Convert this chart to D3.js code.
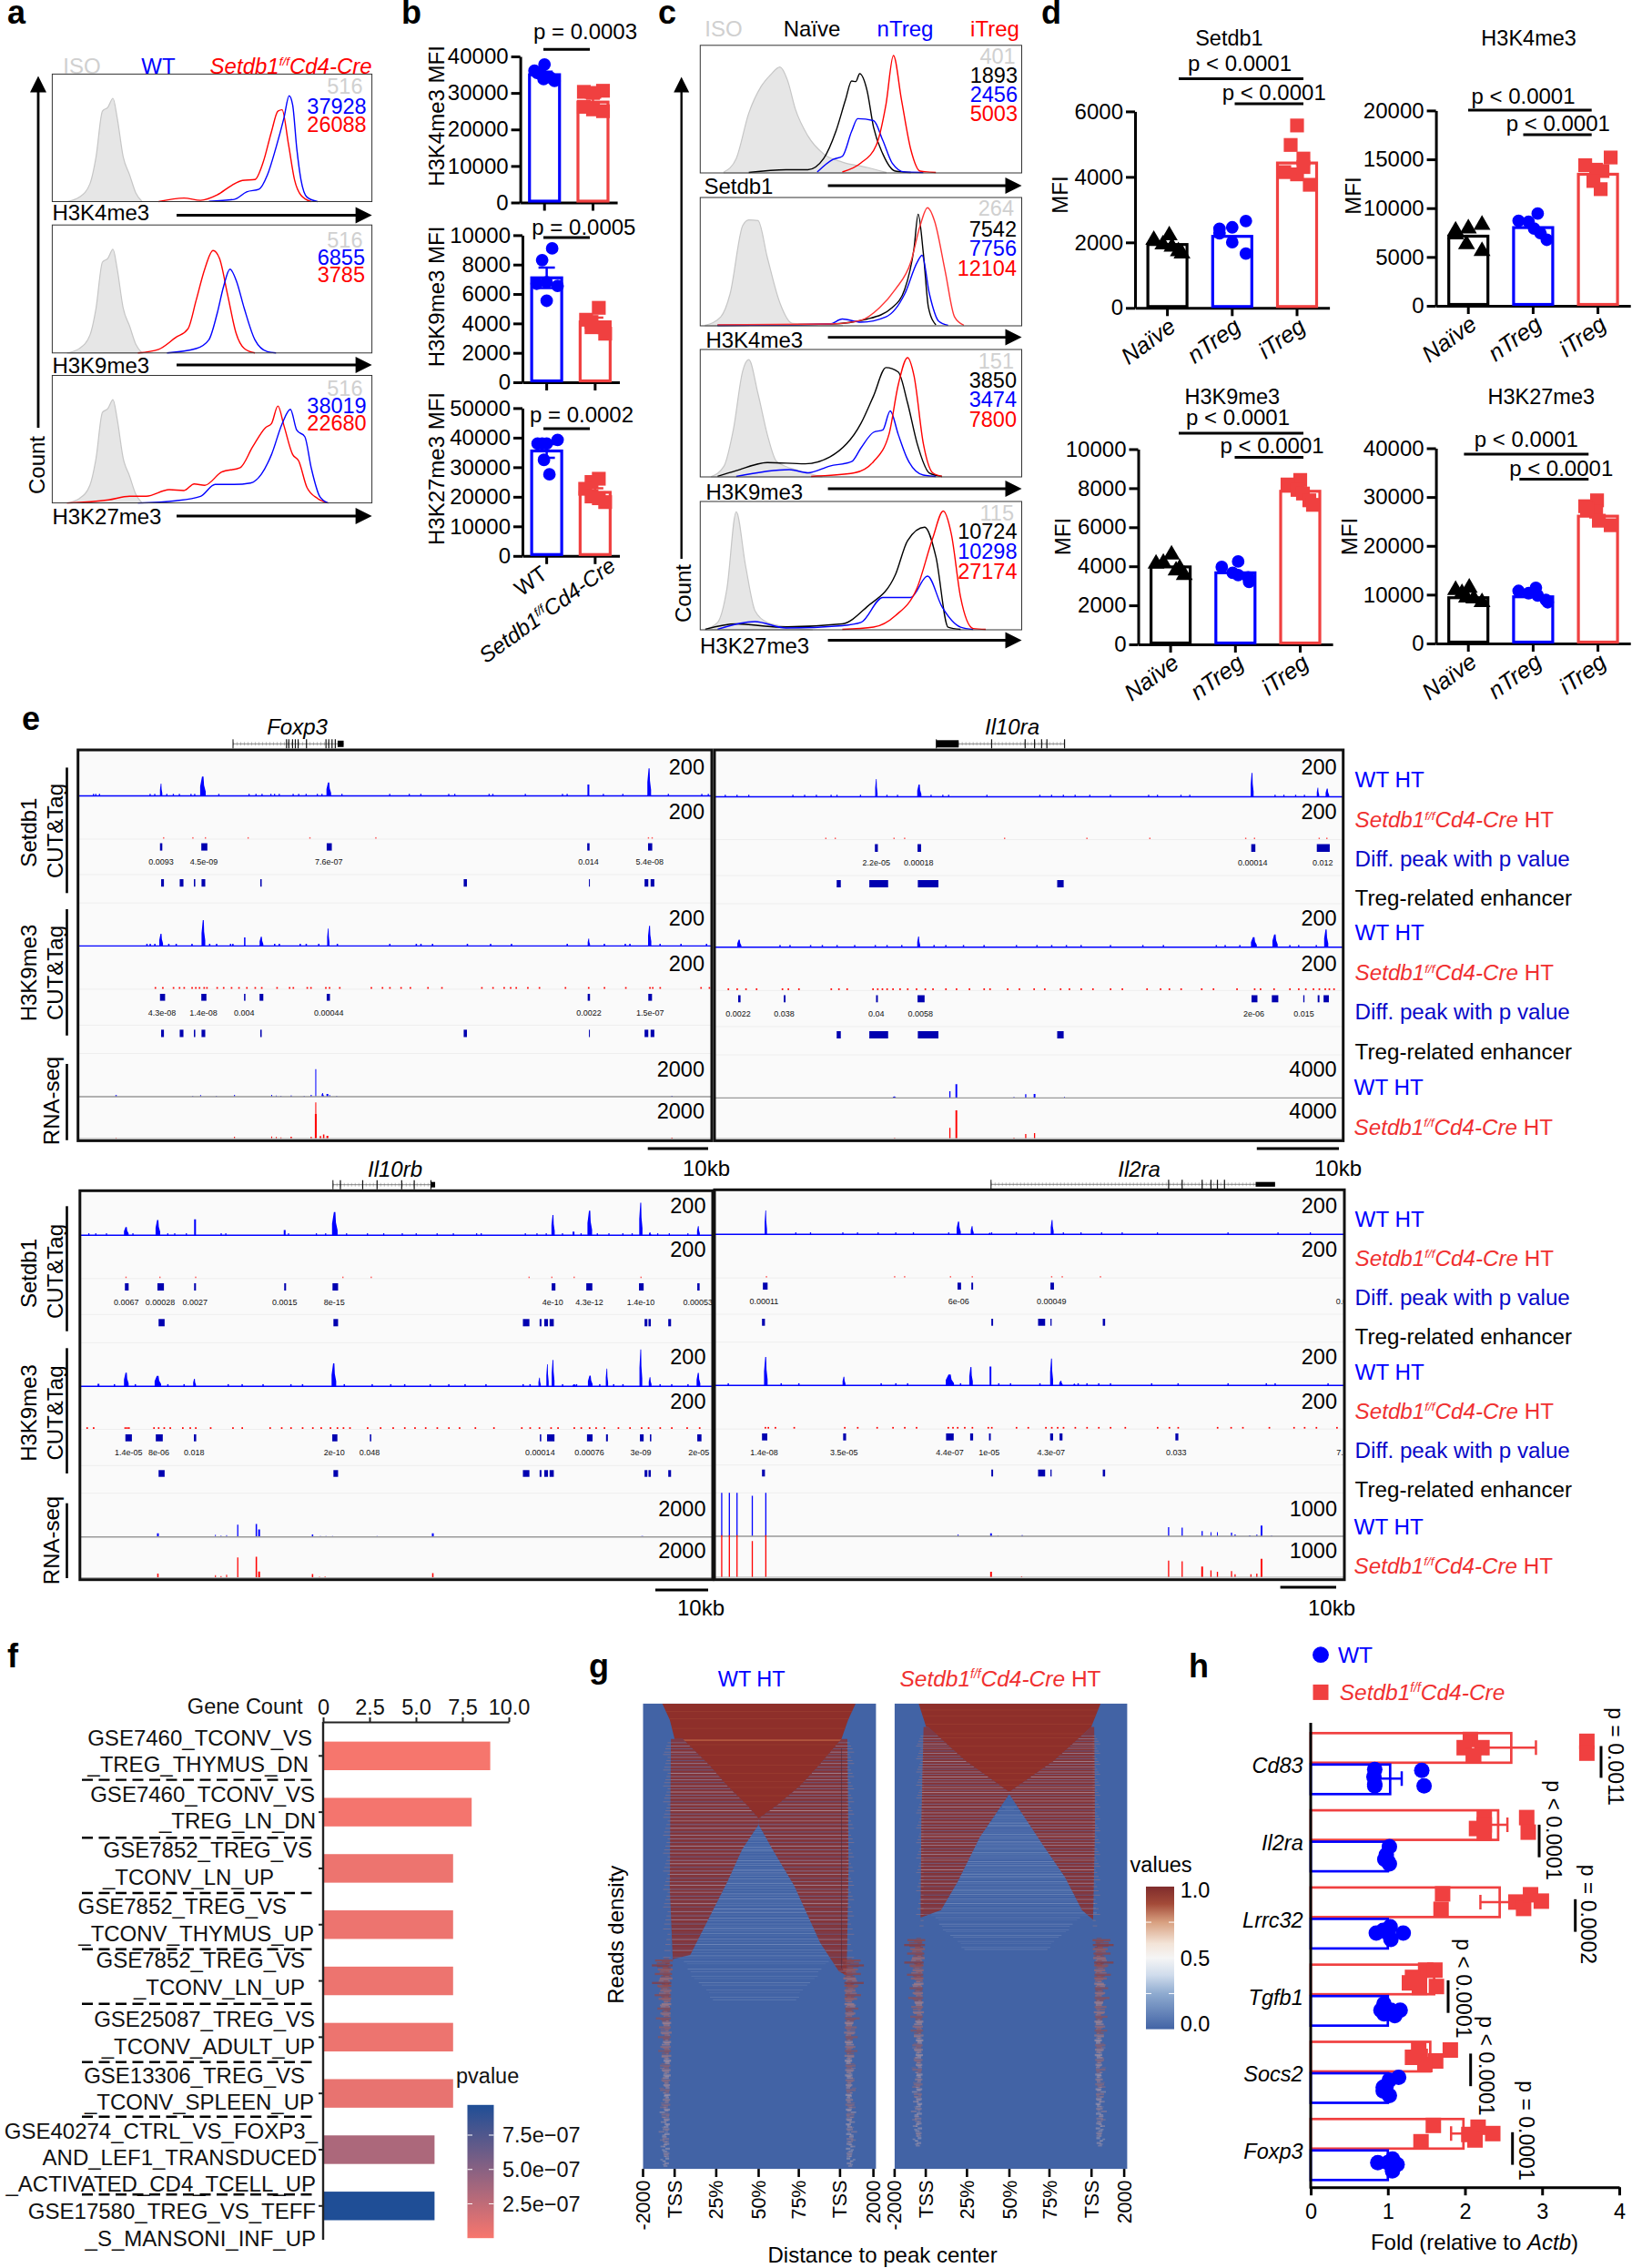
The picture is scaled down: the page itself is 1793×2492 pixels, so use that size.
<!DOCTYPE html>
<html><head><meta charset="utf-8">
<script src="https://cdn.jsdelivr.net/npm/d3@7"></script>
<style>html,body{margin:0;padding:0;background:#fff}svg{display:block}text{font-family:"Liberation Sans",Arial,sans-serif}</style>
</head><body><div id="c"></div>
<script>
// ---------- DATA: flow histograms (fluorescence %, count %) ----------
const isoX=[4.6,8.5,11.8,13.7,15.7,17.4,19,20.3,22.2,24.2,26.1,28.1];
const isoY=[0,3.5,14,35,71,74,81,66,35,21,7,0];
const a1BlueX=[49,56.9,60.8,64.7,67.3,69.9,72.5,74.1,75.2,76.5,77.8,79.7,83];
const a1BlueY=[.3,1.7,7.6,9.7,20.8,41.5,65.7,83,76,41.5,17.3,3.5,0];
const a1RedX=[33.3,41.2,46.4,51.6,56.2,59.5,63.4,66,68.6,70.6,71.9,73.9,75.8,77.8,81];
const a1RedY=[0,2.8,1,5.2,12.8,16.6,17.3,31,55,71,72,45,17,5,0];
const a2BlueX=[35.9,45,49,51.6,53.6,55.6,57.5,60.1,63.4,67.3,70];
const a2BlueY=[0,3.4,10.3,31,52,65.5,57,34.5,10.3,1,0];
const a2RedX=[26.8,33.3,38.6,42.5,45,47.7,50.3,52.3,54.9,57.5,60.1,63.4];
const a2RedY=[0,2.8,12,19,41,65.5,80,74,45,15.5,3.4,0];
const a3BlueX=[26.8,38.6,46.4,50.97,56.9,62,65.4,68.6,71.9,74.5,76.5,79,81,83.7,86.3];
const a3BlueY=[0,1.7,5.2,14.5,14.5,15.6,22.5,38,62,73.4,57,52,27.7,5,0];
const a3RedX=[4.6,17.6,24.2,29.4,36.6,41.2,44.4,47.7,52.97,58.8,62.7,66.7,68.6,70.6,72.5,75.2,77.1,79.7,83,86.3];
const a3RedY=[0,2.4,5.2,5.2,10.4,9.7,14.9,13.8,24.2,27.7,44,59,62.3,76,60.5,38,32.9,12,3.5,0];

const c1Iso=[[7.4,.7],[11.2,11.3],[15.1,46.8],[19,68],[21.9,77],[24.8,83],[27.1,73],[29.6,50],[33.5,29],[38.4,14.9],[44.2,8.5],[52,4.3],[57.8,.4]];
const c1Black=[[15.1,.4],[26.7,2.5],[33.5,2.5],[38.4,11.3],[42.2,32.6],[45.2,57.4],[47.1,72],[48.4,71.6],[49.6,77.7],[51.9,64.5],[53.9,36],[56.8,14.9],[60.7,1.4],[65.5,.4]];
const c1Blue=[[36.4,.7],[41.3,10.6],[44.2,13],[47.1,32.6],[49,42.5],[53.9,41],[56.8,25.5],[59.7,7.8],[63.6,.7],[69.4,.4]];
const c1Red=[[44.2,.7],[50,7.8],[54.8,22],[57.8,54],[60.1,92],[62.6,57.4],[65.5,18.4],[68.4,1.4],[73.3,.4]];
const c2Iso=[[1.6,.4],[6.4,7],[9.3,25],[13.2,78],[15.1,82.6],[18,82],[20.9,53],[24.8,17.7],[28.7,1.8],[44.2,.4]];
const c2Black=[[5.4,.4],[40.3,1.4],[52,5.3],[59.7,14.2],[63.6,28.4],[66.5,60.3],[67.8,87],[69.4,56.7],[71,14.2],[73.3,.7]];
const c2Blue=[[5.4,.4],[40.3,1.4],[44.2,5.3],[50,2.8],[57.8,7],[63.6,24.8],[67.5,49.6],[69,55],[71.3,24.8],[74.2,3.5],[77.1,.4]];
const c2Red=[[5.4,.7],[40.3,1.4],[50,4.3],[55.8,14.2],[60.7,28.4],[65.5,49.6],[68.4,78],[70.7,92],[72.9,81.6],[76.2,42.5],[79.1,7],[82,.4]];
const c3Iso=[[3.5,.4],[7.4,8.5],[10.3,37],[13.2,83],[15.1,92],[18,65],[20.9,33],[23.8,12],[30.6,5],[38,0]];
const c3Black=[[5.4,.4],[11.2,4.9],[20.9,11.3],[32.6,10.3],[40.3,15.6],[50,42],[53.9,63.5],[57.8,85.8],[61.6,82.3],[64.5,58],[67.5,26],[71.3,3],[75.2,.4]];
const c3Blue=[[11.2,.4],[27.7,5.7],[33.5,3.2],[40.3,8.5],[47.1,12],[50,22.7],[53.9,35],[56.8,36.9],[59.1,51.8],[61.6,33.3],[64.5,13.8],[69.4,1.4],[73.3,.4]];
const c3Red=[[34.5,.4],[48,3.2],[53.9,12],[58.7,33.3],[61.6,72.3],[64.5,93.6],[66.5,79.4],[69.4,26.2],[72.3,3.2],[75.2,.4]];
const c4Iso=[[1.6,.4],[5.4,5.7],[8.3,32],[11.2,92],[14.1,50],[17.1,14.5],[20.9,5.7],[27.7,2.1],[35,0]];
const c4Black=[[1.6,.4],[11.2,4.6],[24.8,2.1],[44.2,4.6],[51.9,18],[60.7,42.9],[64.5,69.5],[69.8,80],[73.3,57],[77.1,2.1],[81,.4]];
const c4Blue=[[5.4,.4],[17,6.4],[26.7,1.4],[44.2,3.2],[50,5.7],[56.8,25.2],[65.5,25.2],[70.7,41.8],[75.2,18],[81,2.1],[84.9,.4]];
const c4Red=[[44.2,.4],[53.9,2.1],[60.7,11],[67.4,32.3],[72.3,71.3],[75.6,92.6],[78.1,74.8],[81,25.2],[84.9,1],[88.8,.4]];

// panel b : [MFI, jitter]
const bGroups=["WT","KO"];
const b1WT=[[37800,0],[36100,-11],[35500,-8],[34900,-3],[34300,2],[34300,6],[33300,11],[33800,-1]];
const b1KO=[[30300,-10],[30600,11],[26200,-10],[25500,0],[25000,11],[30000,0]];
const b2WT=[[9100,6],[8300,-5],[6700,-11],[6800,0],[6550,12],[5540,0]];
const b2KO=[[5060,4],[4250,-10],[4100,-4],[3740,-4],[3740,10],[3300,11]];
const b3WT=[[38000,-10],[38000,0],[39250,12],[32500,-3],[27600,3],[38000,-5]];
const b3KO=[[26100,4],[25000,-4],[22700,-11],[20100,-4],[18200,11],[19500,4]];
const bMeans=[[35000,27500],[7100,4100],[35500,21500]];
const bErrs=[[800,1200],[700,300],[2300,1400]];

// panel d
const dGroups=["Naïve","nTreg","iTreg"];
const d1N=[[2073,-15],[2211,2],[1658,16],[1935,-5],[1866,5],[1727,12]];
const d1T=[[2653,15],[2460,0],[2418,-14],[2280,-14],[2004,0],[1658,15]];
const d1I=[[5570,0],[4975,-7],[4560,7],[4146,-14],[4077,0],[3759,14],[4300,7]];
const d2N=[[7686,-14],[7917,0],[8288,15],[6297,-2],[5602,15],[7315,-14]];
const d2T=[[9445,5],[8704,-16],[8612,-5],[7917,1],[6760,15],[7454,8]];
const d2I=[[15186,14],[14400,-14],[13936,-2],[13797,5],[12780,-5],[11945,3]];
const d3N=[[4594,1],[4130,-16],[4176,-8],[3898,10],[3550,15],[3782,6]];
const d3T=[[4246,3],[3967,-15],[3666,-3],[3550,3],[3434,14],[3202,15]];
const d3I=[[8422,0],[8190,-14],[7911,-3],[7726,3],[7378,10],[7146,14]];
const d4N=[[11414,1],[10950,-14],[10300,-7],[9187,6],[8444,15],[9373,-2]];
const d4T=[[11414,3],[10765,-16],[10300,-5],[9837,5],[8909,14],[8444,16]];
const d4I=[[29325,-1],[28118,-14],[27005,-2],[25150,1],[24220,14],[27500,-12]];
const dMeans=[[1935,2184,4424],[7130,8009,13472],[3967,3666,7842],[9373,9559,26078]];

// panel e : [position, height, width] peaks; [position,width] blocks
const fxT1=[[347,40,5],[437,63,12],[708,44,10],[1267,37,4],[1398,90,8]];
const fxT3=[[347,40,8],[438,84,8],[527,28,3],[563,30,8],[707,57,5],[1268,24,5],[1399,66,7]];
const fxRed2=[351,414,441,533,666,808,1395,1403];
const fxRed4=[333,349,372,385,395,412,420,428,438,444,466,480,497,513,530,548,562,595,622,630,660,668,700,708,730,798,822,838,862,882,920,950,1036,1060,1084,1098,1110,1135,1160,1216,1266,1300,1346,1398,1404,1420,1508,1526];
const fxNoise1=[200,205,213,322,332,358,372,385,410,418,470,535,550,563,582,590,600,630,642,658,682,692,735,838,880,905,965,978,1052,1060,1130,1210,1220,1298,1340,1438,1510,1524];
const fxNoise3=[315,322,332,362,378,412,450,465,495,500,590,600,645,658,685,725,838,895,905,930,1005,1055,1100,1220,1300,1345,1355,1420,1465,1520];
const fxDiff1=[[347,5],[440,13],[709,11],[1267,5],[1400,9]];
const fxP1=[[347,"0.0093"],[439,"4.5e-09"],[708,"7.6e-07"],[1267,"0.014"],[1399,"5.4e-08"]];
const fxEnh=[[350,6],[391,8],[419,3],[438,8],[562,3],[1002,7],[1269,1.5],[1392,8],[1405,8]];
const fxDiff2=[[350,11],[439,11],[527,3],[563,8],[707,7],[1268,5],[1400,8]];
const fxP2=[[349,"4.3e-08"],[438,"1.4e-08"],[526,"0.004"],[708,"0.00044"],[1268,"0.0022"],[1400,"1.5e-07"]];
const fxRna1=[[680,90,2],[250,5,3],[415,3,2],[432,5,2],[466,3,2],[505,6,2],[585,6,2],[595,4,2],[605,3,2],[627,4,3],[655,3,2],[670,5,3],[695,12,5],[705,9,4],[710,5,2],[725,3,2],[1447,3,3]];
const fxRna2=[[680,118,2],[680,80,4],[505,6,2],[585,7,2],[595,5,2],[605,4,2],[627,6,3],[670,5,3],[690,8,3],[697,13,3],[705,9,4],[250,2,2],[1447,3,3]];

const raT1=[[283,58,4],[356,40,7],[922,78,5],[1034,30,4],[1050,27,6]];
const raT3=[[50,25,7],[355,35,5],[925,33,10],[961,42,9],[1048,58,7]];
const raRed2=[196,212,312,330,500,640,747,910,925,1035,1048];
const raRed4=[30,45,60,78,122,132,150,205,218,232,276,284,292,300,310,322,335,350,365,378,400,418,440,465,475,505,525,550,568,595,610,630,650,680,700,742,765,780,800,835,855,895,925,935,958,985,1000,1012,1025,1035,1045,1052,1060];
const raNoise1=[25,45,65,140,160,180,205,215,255,300,318,375,395,405,470,560,580,600,620,645,680,745,760,800,815,960,975,995,1010];
const raNoise3=[118,135,170,190,215,245,280,300,325,380,400,430,465,520,555,580,605,630,680,735,770,860,875,900,985,1000,1030];
const raDiff1=[[283,5],[356,6],[924,7],[1043,22]];
const raP1=[[283,"2.2e-05"],[355,"0.00018"],[923,"0.00014"],[1042,"0.012"]];
const raEnh=[[219,7],[287,32],[371,35],[596,11]];
const raDiff2=[[50,4],[127,3],[284,3],[359,12],[926,10],[961,11],[1010,2],[1035,3],[1048,9]];
const raP2=[[48,"0.0022"],[126,"0.038"],[283,"0.04"],[358,"0.0058"],[925,"2e-06"],[1010,"0.015"]];
const raRna1=[[419,45,3],[408,22,2],[314,5,6],[537,12,2],[552,13,3],[517,3,2],[603,4,1]];
const raRna2=[[419,92,3],[408,35,2],[537,15,2],[552,18,2],[517,3,2],[314,2,2]];

const rbT1=[[272,27,10],[340,50,10],[420,52,4],[613,17,4],[721,76,12],[1191,66,7],[1235,12,4],[1270,80,10],[1380,106,7],[1400,10,5],[1504,30,6]];
const rbT3=[[272,45,10],[340,34,14],[419,25,6],[212,8,4],[719,75,10],[1162,28,5],[1179,72,5],[1191,86,6],[1237,7,8],[1271,35,10],[1307,58,5],[1380,120,6],[1400,30,6],[1504,44,8]];
const rbRed2=[270,343,420,737,798,1138,1187,1235,1379];
const rbRed4=[186,200,268,272,276,330,340,352,365,392,408,420,452,500,520,580,605,625,650,672,690,710,725,738,752,790,818,845,870,892,915,940,965,988,1022,1062,1122,1140,1160,1185,1200,1235,1250,1268,1282,1300,1330,1355,1380,1395,1420,1445,1478,1505];
const rbNoise1=[190,205,228,285,360,375,400,475,485,620,680,700,745,790,825,865,895,940,975,1025,1035,1130,1155,1175,1210,1250,1285,1310,1340,1360,1415,1440,1480];
const rbNoise3=[245,290,360,395,490,520,565,625,650,740,800,840,870,925,965,1000,1045,1125,1140,1210,1240,1290,1320,1340,1420,1445,1480];
const rbDiff1=[[273,8],[346,14],[420,4],[614,4],[722,12],[1192,8],[1269,13],[1381,10],[1504,5]];
const rbP1=[[272,"0.0067"],[345,"0.00028"],[420,"0.0027"],[613,"0.0015"],[720,"8e-15"],[1190,"4e-10"],[1269,"4.3e-12"],[1380,"1.4e-10"],[1503,"0.00053"]];
const rbEnh=[[348,13],[723,10],[1133,14],[1164,4],[1176,8],[1188,9],[1391,6],[1399,5],[1442,6]];
const rbDiff2=[[277,14],[343,15],[420,5],[721,11],[798,3],[1164,3],[1186,16],[1270,12],[1307,4],[1382,8],[1401,3],[1506,9]];
const rbP2=[[277,"1.4e-05"],[342,"8e-06"],[418,"0.018"],[720,"2e-10"],[796,"0.048"],[1163,"0.00014"],[1269,"0.00076"],[1380,"3e-09"],[1505,"2e-05"]];
const rbRna1=[[340,12,4],[464,7,1.5],[476,4,1.5],[488,6,1.5],[512,40,2.5],[552,42,3],[558,24,4],[673,8,3],[690,3,2],[702,3,2],[716,3,2],[731,2,2],[812,3,2],[865,2,1],[932,12,4],[1383,3,4]];
const rbRna2=[[340,13,3],[464,8,2],[476,5,2],[488,10,2],[512,66,2.5],[552,68,3],[558,20,4],[673,12,3],[688,3,2],[700,4,2],[932,15,3]];

const i2T1=[[95,78,4],[423,42,7],[446,27,5],[476,5,4],[582,47,5]];
const i2T3=[[95,93,6],[228,28,5],[408,36,14],[444,60,6],[477,62,3],[581,88,5],[597,15,6],[620,6,4]];
const i2Red2=[95,313,330,408,445,580,598,663];
const i2Red4=[93,98,110,142,228,250,283,310,330,350,404,412,420,432,445,472,478,520,540,570,580,590,600,620,640,660,680,705,760,780,795,862,885,905,950,992,1010,1030,1065];
const i2Noise1=[145,170,225,250,285,315,345,405,478,520,550,600,630,665,700,760,880,965,1020];
const i2Noise3=[30,120,150,290,315,335,425,490,510,560,625,640,660,680,750,795,880,945,960,1050];
const i2Diff1=[[94,8],[424,6],[446,3],[582,6]];
const i2P1=[[92,"0.00011"],[423,"6e-06"],[581,"0.00049"],[1078,"0.00"]];
const i2Enh=[[91,5],[480,3],[564,12],[580,2],[670,4]];
const i2Diff2=[[93,9],[229,5],[408,13],[445,5],[476,3],[581,5],[597,5],[794,5]];
const i2P2=[[92,"1.4e-08"],[228,"3.5e-05"],[408,"4.4e-07"],[475,"1e-05"],[580,"4.3e-07"],[793,"0.033"],[1075,"7.3"]];
const i2Rna1=[[20,142,2],[33,142,2],[46,142,2],[72,132,2],[95,142,2],[422,6,1.5],[478,10,3],[490,3,1],[531,4,2],[780,30,2],[803,28,2],[837,17,2],[852,13,1.5],[863,13,1.5],[887,12,2],[893,6,2],[918,3,3],[930,5,2],[938,35,3],[955,2,2]];
const i2Rna2=[[20,137,2],[33,137,2],[46,137,2],[72,118,2],[95,137,2],[478,18,3],[530,3,2],[780,54,2],[803,52,2],[837,35,3],[852,22,2],[863,18,2],[887,20,2],[893,10,2],[920,10,2],[930,12,2],[938,60,3]];

// panel f
const geneSets=["GSE7460_A","GSE7460_B","GSE7852_A","GSE7852_B","GSE7852_C","GSE25087","GSE13306","GSE40274","GSE17580"];
const geneCounts=[9,8,7,7,7,7,7,6,6];
const genePvals=[1e-8,2e-8,5e-8,5e-8,5e-8,5e-8,7e-8,3.4e-7,9.7e-7];
const countTicks=[0,2.5,5,7.5,10];
const pvalTicks=[2.5e-7,5e-7,7.5e-7];
const fLabelText=["GSE7460_TCONV_VS","_TREG_THYMUS_DN","GSE7460_TCONV_VS","_TREG_LN_DN","GSE7852_TREG_VS","_TCONV_LN_UP","GSE7852_TREG_VS","_TCONV_THYMUS_UP","GSE7852_TREG_VS","_TCONV_LN_UP","GSE25087_TREG_VS","_TCONV_ADULT_UP","GSE13306_TREG_VS","_TCONV_SPLEEN_UP","GSE40274_CTRL_VS_FOXP3_","AND_LEF1_TRANSDUCED","_ACTIVATED_CD4_TCELL_UP","GSE17580_TREG_VS_TEFF","_S_MANSONI_INF_UP"];
const fLabelRight=[343,339,346,347,343,301,315,345,335,335,346,346,335,345,349,348,347,347,347];
const fLabelY=[1909.5,1939,1971.3,2000.4,2033,2062.2,2094.8,2124.4,2154,2184,2218.4,2248.3,2280.2,2309.3,2341.5,2370.6,2399.7,2430,2459.2];
const fDashY=[1955.6,2019.2,2080,2141.8,2201.8,2265.8,2325.8,2411.3];

// panel g : heatmap bins (column, row)
const wtTop=[[52,0],[572,0],[552,40],[534,87],[475,150],[425,200],[360,250],[311,282],[280,250],[225,200],[177,150],[107,87],[85,87],[72,40]];
const wtLobeL=[[75,87],[107,87],[177,150],[225,200],[280,250],[311,282],[311,297],[267,357],[227,437],[177,527],[127,617],[80,627],[72,450]];
const wtLobeR=[[534,87],[550,87],[553,400],[548,667],[527,657],[477,587],[407,447],[350,360],[311,297],[311,282],[360,250],[425,200],[475,150]];
const koTop=[[65,0],[555,0],[530,57],[430,140],[309,217],[190,140],[90,57],[85,57]];
const koLobeL=[[78,57],[90,57],[190,140],[309,217],[309,222],[230,327],[170,437],[125,507],[70,525],[72,300]];
const koLobeR=[[530,57],[538,57],[540,300],[535,530],[505,507],[460,427],[400,347],[309,222],[309,217],[430,140]];
const topStreaks=[18,36,60,88,100,125,150,170,190,205,225,240];
const lobeRows=[95,103,110,118,124,131,139,146,155,162,170,178,186,193,201,208,216,224,231,240,247,255,262,270,278,287,296,305,314,322,331,340,349,358,366,375,384,392,401,410,418,428,436,445,455,462,472,480,490,498,510,520,530,540,552,565,578,590,605,622,640,656];
const lobeVals=[.2,.35,.1,.45,.15,.3,.05,.4,.2,.1,.5,.25,.35,.1,.4,.15,.55,.2,.3,.1,.45,.2,.6,.15,.35,.9,.2,.55,.1,.45,.3,.15,.5,.2,.4,.1,.35,.55,.15,.3,.45,.1,.25,.5,.2,.4,.15,.3,.55,.1,.35,.2,.45,.15,.3,.05,.4,.2,.35,.1,.3,.2];
const wedgeRows=[305,316,328,340,352,361,373,385,396,408,417,429,440,452,466,478,489,503,512,526,540,551,563,577,590,604,618,632,651,668,684,702,720];
const wedgeVals=[.3,.22,.34,.2,.4,.25,.18,.36,.26,.44,.2,.3,.38,.22,.33,.4,.2,.42,.27,.35,.22,.4,.3,.25,.36,.22,.3,.2,.27,.18,.24,.16,.2];
const wedgeSpan=[[290,330],[275,345],[262,360],[255,372],[245,385],[238,395],[230,405],[222,420],[215,430],[208,445],[200,455],[192,465],[185,475],[178,482],[168,490],[160,500],[152,505],[142,512],[136,518],[128,522],[120,528],[115,530],[108,532],[102,535],[98,540],[95,542],[90,545],[110,500],[120,480],[130,470],[150,450],[170,430],[180,420]];
const flankRows=[628,640,650,661,672,683,690,702,713,722,735,746,758,770,781,792,805,816,828,840,850,862,874,886,897,910,922,934,946,958,970,982,994,1006,1018,1030,1042,1054,1066,1078,1090,1102,1114,1126];
const flankOff=[-12,-18,-8,-14,-5,-20,-11,-6,-16,-9,-4,-12,-7,-14,-3,-9,-5,-11,-2,-7,-10,-4,-1,-8,-5,-2,-6,-3,-9,-1,-4,-6,-2,-7,-3,-1,-5,-2,-6,-3,0,-4,-1,-3];
const flankWidth=[48,56,40,46,34,52,38,30,44,34,26,36,28,40,24,32,30,34,22,28,34,26,20,28,24,20,24,18,26,16,20,24,16,22,16,14,18,14,18,14,12,16,10,12];
const flankVal=[.95,.98,.9,.95,.85,.98,.92,.86,.95,.88,.8,.94,.84,.93,.78,.88,.82,.92,.76,.84,.92,.8,.72,.88,.78,.72,.84,.74,.86,.7,.78,.84,.7,.82,.72,.68,.76,.68,.78,.7,.66,.74,.64,.68];
const heatTickLabels=["-2000","TSS","25%","50%","75%","TSS","2000"];

// panel h
const hGenes=["Cd83","Il2ra","Lrrc32","Tgfb1","Socs2","Foxp3"];
const hKOMean=[2.6,2.43,2.45,1.6,1.55,1.98];
const hWTMean=[1.03,1,1,1,1,1];
const hKOErr=[.32,.12,.25,0,0,.16];
const hWTErr=[.15,0,0,0,0,0];
const hKO=[[[2.07,-9],[1.99,0],[2.11,9],[2.22,0],[2.11,9],[3.58,-7],[3.58,6]],[[2.25,-8],[2.8,-8],[2.15,4],[2.25,9],[2.82,8],[2.25,0]],[[1.71,-9],[1.69,8],[2.66,0],[2.76,7],[2.85,-8],[2.99,-1]],[[1.49,-10],[1.61,-10],[1.32,-2],[1.28,4],[1.41,4],[1.63,8],[1.41,9]],[[1.4,-7],[1.81,-7],[1.32,1],[1.62,5],[1.48,9],[1.42,0]],[[1.59,-9],[1.43,9],[2.17,-7],[2.36,0],[2.13,7],[2.05,1]]];
const hWT=[[[.83,-10],[1.44,-9],[.82,-2],[.83,6],[1.47,8],[.83,8]],[[1.02,-10],[.98,-1],[1.02,9],[.96,4],[1,6]],[[.85,0],[.94,-3],[1.03,-7],[1.2,0],[1.04,7],[1,0]],[[.95,-7],[.91,0],[.95,4],[1.16,0],[1.09,6],[1.04,0]],[[1.14,-11],[1.02,-8],[.94,0],[1.02,9],[.94,4],[.98,-2]],[[.87,-2],[1.06,-6],[1.12,0],[1.06,7],[1,-2]]];
const hP=["p = 0.0011","p < 0.0001","p = 0.0002","p < 0.0001","p < 0.0001","p = 0.0001"];

// ---------- DRAW ----------
const BLUE="#0000ff",RED="#ff0000",BRED="#f04040",GREY="#d0d0d0";
const svg=d3.select("#c").append("svg").attr("width",1793).attr("height",2492).attr("viewBox","0 0 1793 2492");
svg.append("rect").attr("width",1793).attr("height",2492).attr("fill","#fff");

function T(p,x,y,content,o={}){
  const n=p.append("text").attr("transform",`translate(${x},${y})`+(o.rot?` rotate(${o.rot})`:""))
    .attr("font-size",o.size||24).attr("fill",o.fill||"#000").attr("text-anchor",o.anchor||"start");
  if(o.italic)n.attr("font-style","italic");
  if(o.weight)n.attr("font-weight",o.weight);
  const dyBase=o.mid?"0.35em":null;
  if(typeof content==="string"){n.text(content);if(dyBase)n.attr("dy",dyBase);}
  else{
    if(dyBase)n.attr("dy",dyBase);
    let shift=0;
    content.forEach(c=>{
      const s=n.append("tspan").text(c.t);
      if(c.sup){s.attr("font-size",(o.size||24)*.56).attr("dy",-(o.size||24)*.36);shift=(o.size||24)*.36;}
      else if(shift){s.attr("dy",shift);shift=0;}
      if(c.it===true)s.attr("font-style","italic");
      if(c.it===false)s.attr("font-style","normal");
    });
  }
  return n;
}
const KO=[{t:"Setdb1"},{t:"f/f",sup:true},{t:"Cd4-Cre"}];
const KOHT=[{t:"Setdb1",it:true},{t:"f/f",sup:true,it:true},{t:"Cd4-Cre",it:true},{t:" HT",it:false}];

function arrow(x1,y1,x2,y2,w=2.8,hl=18,hw=9){
  const a=Math.atan2(y2-y1,x2-x1),c=Math.cos(a),s=Math.sin(a);
  svg.append("line").attr("x1",x1).attr("y1",y1).attr("x2",x2-c*hl*.6).attr("y2",y2-s*hl*.6).attr("stroke","#000").attr("stroke-width",w);
  svg.append("polygon").attr("points",[[x2,y2],[x2-c*hl-s*hw,y2-s*hl+c*hw],[x2-c*hl+s*hw,y2-s*hl-c*hw]].map(d=>d.join(",")).join(" ")).attr("fill","#000");
}
function zip(a,b){return a.map((d,i)=>[d,b[i]]);}

function hist(box,curves,iso){
  const x=d3.scaleLinear([0,100],[box[0],box[1]]),y=d3.scaleLinear([0,100],[box[3],box[2]]);
  svg.append("rect").attr("x",box[0]).attr("y",box[2]).attr("width",box[1]-box[0]).attr("height",box[3]-box[2]).attr("fill","#fff");
  const ar=d3.area().x(d=>x(d[0])).y0(y(0)).y1(d=>y(d[1])).curve(d3.curveMonotoneX);
  const ln=d3.line().x(d=>x(d[0])).y(d=>y(d[1])).curve(d3.curveMonotoneX);
  svg.append("path").attr("d",ar(iso)).attr("fill","#e6e6e6").attr("stroke","#c6c6c6").attr("stroke-width",1.2);
  curves.forEach(c=>svg.append("path").attr("d",ln(c[0])).attr("fill","none").attr("stroke",c[1]).attr("stroke-width",1.4));
  svg.append("rect").attr("x",box[0]).attr("y",box[2]).attr("width",box[1]-box[0]).attr("height",box[3]-box[2]).attr("fill","none").attr("stroke","#333").attr("stroke-width",1);
}
// --- panel labels
[["a",8,26],["b",441,26],["c",723,26],["d",1144,26],["e",24,802],["f",8,1832],["g",647,1843],["h",1306,1843]]
 .forEach(d=>T(svg,d[1],d[2],d[0],{size:36,weight:"bold"}));

// --- panel a
const isoC=zip(isoX,isoY);
hist([57.4,408.6,81.4,221.5],[[zip(a1RedX,a1RedY),RED],[zip(a1BlueX,a1BlueY),BLUE]],isoC);
hist([57.4,408.6,247.2,387.8],[[zip(a2RedX,a2RedY),RED],[zip(a2BlueX,a2BlueY),BLUE]],isoC);
hist([57.4,408.6,412.5,552.6],[[zip(a3RedX,a3RedY),RED],[zip(a3BlueX,a3BlueY),BLUE]],isoC);
T(svg,90,81,"ISO",{size:24,fill:GREY,anchor:"middle"});
T(svg,174,81,"WT",{size:24,fill:BLUE,anchor:"middle"});
T(svg,408.6,81,KO,{size:24,fill:RED,anchor:"end",italic:true});
arrow(42,470,42,83.4);
T(svg,49,511,"Count",{size:24,rot:-90,anchor:"middle"});
[["H3K4me3",242,236.5],["H3K9me3",409.6,401],["H3K27me3",576,567]].forEach(d=>{
  T(svg,57.4,d[1],d[0],{size:24}); arrow(194,d[2],408.6,d[2]);
});
[[ "516",398.5,103,GREY],["37928",402.7,125,BLUE],["26088",402.7,145.4,RED],["516",398.5,272,GREY],["6855",401,291,BLUE],["3785",401,310,RED],["516",398.5,435,GREY],["38019",402.7,453.7,BLUE],["22680",402.7,472.6,RED]]
 .forEach(d=>T(svg,d[1],d[2],d[0],{size:23.5,fill:d[3],anchor:"end"}));

// --- generic bar panels
function barPanel(c){
  const y=d3.scaleLinear([0,c.max],[c.y0,c.yTop]);
  const x=d3.scaleBand(c.groups,[c.axisX,c.right]);
  const g=svg.append("g");
  const ax=g.append("g").attr("transform",`translate(${c.axisX},0)`).call(d3.axisLeft(y).tickValues(c.ticks).tickSize(10).tickSizeOuter(0).tickFormat(d3.format("d")));
  ax.selectAll("path,line").attr("stroke","#000").attr("stroke-width",3);
  ax.selectAll("text").attr("font-size",24).attr("font-family",'"Liberation Sans"').attr("fill","#000");
  const bx=g.append("g").attr("transform",`translate(0,${c.y0})`).call(d3.axisBottom(x).tickSize(9).tickSizeOuter(0).tickFormat(""));
  bx.selectAll("path,line").attr("stroke","#000").attr("stroke-width",3);
  c.groups.forEach((k,i)=>{
    const cx=x(k)+x.bandwidth()/2,col=c.cols[i];
    g.append("rect").attr("x",cx-c.bw/2).attr("y",y(c.means[i])).attr("width",c.bw).attr("height",c.y0-y(c.means[i])-1.5).attr("fill","#fff").attr("stroke",col).attr("stroke-width",3.2);
    if(c.errs){const e=c.errs[i];
      g.append("path").attr("d",`M${cx},${y(c.means[i]-e)}V${y(c.means[i]+e)}M${cx-9},${y(c.means[i]+e)}H${cx+9}M${cx-9},${y(c.means[i]-e)}H${cx+9}`).attr("stroke",col).attr("stroke-width",2.5).attr("fill","none");}
    const sym=d3.symbol().type(c.syms[i]).size(c.sizes[i]);
    c.points[i].forEach(p=>g.append("path").attr("d",sym()).attr("transform",`translate(${cx+p[1]},${y(p[0])})`).attr("fill",col));
  });
  return {x,y};
}
const circ=d3.symbolCircle,sq=d3.symbolSquare,tri=d3.symbolTriangle;
// panel b
[[b1WT,b1KO,571.6,222.5,62,40000,d3.range(0,40001,10000),"H3K4me3 MFI",127.5,"p = 0.0003",643,35,54.3,0],
 [b2WT,b2KO,574,420,258.4,10000,d3.range(0,10001,2000),"H3K9me3 MFI",326,"p = 0.0005",641.4,250,261,1],
 [b3WT,b3KO,574,610.8,448.4,50000,d3.range(0,50001,10000),"H3K27me3 MFI",515,"p = 0.0002",639,456,471,2]].forEach(r=>{
  barPanel({groups:bGroups,axisX:r[2],right:r[2]+106.5,y0:r[3],yTop:r[4],max:r[5],ticks:r[6],bw:33,means:bMeans[r[13]],errs:bErrs[r[13]],cols:[BLUE,BRED],syms:[circ,sq],sizes:[150,230],points:[r[0],r[1]]});
  T(svg,488,r[8],r[7],{size:24,rot:-90,anchor:"middle"});
  T(svg,r[10],r[11],r[9],{size:24,anchor:"middle",mid:true});
  svg.append("line").attr("x1",597).attr("x2",648).attr("y1",r[12]).attr("y2",r[12]).attr("stroke","#000").attr("stroke-width",3);
});
T(svg,603,634,"WT",{size:24,rot:-36,anchor:"end"});
T(svg,678,625,KO,{size:24,rot:-36,anchor:"end"}).attr("font-style","italic");

// --- panel c
hist([769.3,1122.5,49.8,190],[[c1Black,"#000"],[c1Blue,BLUE],[c1Red,RED]],c1Iso);
hist([769.3,1122.5,217,358],[[c2Black,"#000"],[c2Blue,BLUE],[c2Red,"#f33"]],c2Iso);
hist([769.3,1122.5,384,524],[[c3Black,"#000"],[c3Blue,BLUE],[c3Red,RED]],c3Iso);
hist([769.3,1122.5,551,692],[[c4Black,"#000"],[c4Blue,BLUE],[c4Red,RED]],c4Iso);
[["ISO",795,GREY],["Naïve",892,"#000"],["nTreg",994.5,BLUE],["iTreg",1093,RED]].forEach(d=>T(svg,d[1],40,d[0],{size:24,fill:d[2],anchor:"middle"}));
arrow(748.7,614,748.7,84.6,2.4,17,8.5);
T(svg,759,652,"Count",{size:24,rot:-90,anchor:"middle"});
[["Setdb1",773.4,213,204],["H3K4me3",775.4,382,370.6],["H3K9me3",775.4,549,537],["H3K27me3",769,718,703.5]].forEach(d=>{
  T(svg,d[1],d[2],d[0],{size:24}); arrow(909.6,d[3],1122.5,d[3]);
});
[[["401",1115.6,69.7,GREY],["1893",1118,90.5,"#000"],["2456",1118,112.4,BLUE],["5003",1118,133.3,RED]],
 [["264",1114,237,GREY],["7542",1117,260,"#000"],["7756",1117,281,BLUE],["12104",1117,302.5,RED]],
 [["151",1114,405,GREY],["3850",1117,426,"#000"],["3474",1117,447,BLUE],["7800",1117,469,RED]],
 [["115",1114,572,GREY],["10724",1117.5,592,"#000"],["10298",1117.5,614,BLUE],["27174",1117.5,636,RED]]]
 .forEach(r=>r.forEach(d=>T(svg,d[1],d[2],d[0],{size:23.5,fill:d[3],anchor:"end"})));

// --- panel d
const dCfg=[
 {pts:[d1N,d1T,d1I],axisX:1247,y0:338.3,yTop:122.4,max:6000,ticks:d3.range(0,6001,2000),title:["Setdb1",1350.4,42],p1:[1362,70,1295,1432,86.6],p2:[1399.7,102,1356.5,1432,114],mfi:[1173,214]},
 {pts:[d2N,d2T,d2I],axisX:1577.6,y0:336,yTop:121.4,max:20000,ticks:d3.range(0,20001,5000),title:["H3K4me3",1679.6,42],p1:[1673.5,105.5,1613,1748.7,121],p2:[1711.8,136,1673.5,1748.7,148],mfi:[1495,215]},
 {pts:[d3N,d3T,d3I],axisX:1250.5,y0:708,yTop:493.5,max:10000,ticks:d3.range(0,10001,2000),title:["H3K9me3",1353.8,436],p1:[1360,458.7,1295,1432,476],p2:[1397.6,490,1356.5,1432,502.5],mfi:[1176,589.5]},
 {pts:[d4N,d4T,d4I],axisX:1577.6,y0:707,yTop:492.5,max:40000,ticks:d3.range(0,40001,10000),title:["H3K27me3",1693.3,436],p1:[1676.9,482.6,1608.4,1745.3,499],p2:[1715.2,515,1669.3,1745.3,526.4],mfi:[1491,589.5]}];
dCfg.forEach((c,i)=>{
  const {x}=barPanel({groups:dGroups,axisX:c.axisX,right:c.axisX+213.6,y0:c.y0,yTop:c.yTop,max:c.max,ticks:c.ticks,bw:43,means:dMeans[i],cols:["#000",BLUE,BRED],syms:[tri,circ,sq],sizes:[150,150,230],points:c.pts});
  T(svg,c.title[1],c.title[2],c.title[0],{size:23.5,anchor:"middle",mid:true});
  [c.p1,c.p2].forEach(p=>{
    T(svg,p[0],p[1],"p < 0.0001",{size:24,anchor:"middle",mid:true});
    svg.append("line").attr("x1",p[2]).attr("x2",p[3]).attr("y1",p[4]).attr("y2",p[4]).attr("stroke","#000").attr("stroke-width",3);
  });
  T(svg,c.mfi[0],c.mfi[1],"MFI",{size:24,rot:-90,anchor:"middle"});
  dGroups.forEach(k=>T(svg,x(k)+x.bandwidth()/2+11,c.y0+24,k,{size:25.5,rot:-36,anchor:"end",italic:true}));
});

// --- panel e browsers
const posX=d3.scaleLinear([0,1568],[0,800]);
const posXR=d3.scaleLinear([0,1568],[780,1793]);
const sigH=d3.scaleLinear([0,141],[0,47.5]);
let clipId=0;
function browser(c){
  const X=c.x;
  const g=svg.append("g");
  const id="bx"+(clipId++);
  svg.append("clipPath").attr("id",id).append("rect").attr("x",c.box[0]).attr("y",c.box[2]).attr("width",c.box[1]-c.box[0]).attr("height",c.box[3]-c.box[2]);
  g.append("rect").attr("x",c.box[0]).attr("y",c.box[2]).attr("width",c.box[1]-c.box[0]).attr("height",c.box[3]-c.box[2]).attr("fill","#fafafa");
  const inner=g.append("g").attr("clip-path",`url(#${id})`);
  const R=c.rows;
  [R.t2+.5,R.eT-5,R.eB+18,R.t4+.5,R.e2T-5,R.e2B+18].forEach(y=>inner.append("line").attr("x1",c.box[0]).attr("x2",c.box[1]).attr("y1",y).attr("y2",y).attr("stroke","#eee").attr("stroke-width",1));
  function peaks(arr,base,col){
    const ar=d3.area().x(d=>d[0]).y0(base).y1(d=>base-d[1]);
    arr.forEach(p=>{
      const px=X(p[0]),h=sigH(p[1]),w=X(p[2])-X(0);
      const pts=w<2.2?[[px-w/2,0],[px-w/2,h],[px+w/2,h],[px+w/2,0]]:[[px-w/2,0],[px-w/2,h*.5],[px-w/6,h],[px+w/10,h],[px+w/5,h*.55],[px+w/2,h*.22],[px+w/2,0]];
      inner.append("path").attr("d",ar(pts)).attr("fill",col);
    });
  }
  function ticks(arr,base,col,h,w=1.1,op=1){
    arr.forEach((p,i)=>inner.append("rect").attr("x",X(p)).attr("y",base-h).attr("width",w).attr("height",h).attr("fill",col).attr("opacity",op));
  }
  function blocks(arr,y0,y1){arr.forEach(b=>inner.append("rect").attr("x",X(b[0]-b[1]/2)).attr("y",y0).attr("width",Math.max(1,X(b[1])-X(0))).attr("height",y1-y0).attr("fill","#0000b0"));}
  function pl(arr,y){arr.forEach(p=>T(inner,X(p[0]),y,p[1],{size:9,anchor:"middle",fill:"#111"}));}
  ticks(c.noise1,R.t1,BLUE,2.2,1.3); peaks(c.t1,R.t1,BLUE);
  inner.append("line").attr("x1",c.box[0]).attr("x2",c.box[1]).attr("y1",R.t1).attr("y2",R.t1).attr("stroke",BLUE).attr("stroke-width",1.4);
  ticks(c.red2,R.t2,"#f55",1.6,1.4);
  blocks(c.diff1,R.dT,R.dB); pl(c.p1,R.pB); blocks(c.enh,R.eT,R.eB);
  ticks(c.noise3,R.t3,BLUE,2.4,1.5); peaks(c.t3,R.t3,BLUE);
  inner.append("line").attr("x1",c.box[0]).attr("x2",c.box[1]).attr("y1",R.t3).attr("y2",R.t3).attr("stroke",BLUE).attr("stroke-width",1.4);
  ticks(c.red4,R.t4,RED,1.8,1.7);
  blocks(c.diff2,R.d2T,R.d2B); pl(c.p2,R.p2B); blocks(c.enh,R.e2T,R.e2B);
  peaks(c.rna1,R.r1,BLUE);
  inner.append("line").attr("x1",c.box[0]).attr("x2",c.box[1]).attr("y1",R.r1).attr("y2",R.r1).attr("stroke","#999").attr("stroke-width",1.4);
  peaks(c.rna2,R.r2,RED);
  inner.append("line").attr("x1",c.box[0]).attr("x2",c.box[1]).attr("y1",R.r2).attr("y2",R.r2).attr("stroke","#aaa").attr("stroke-width",1.2);
  g.append("rect").attr("x",c.box[0]).attr("y",c.box[2]).attr("width",c.box[1]-c.box[0]).attr("height",c.box[3]-c.box[2]).attr("fill","none").attr("stroke","#111").attr("stroke-width",3);
  c.labels.forEach((l,i)=>T(svg,c.labRight,c.labY[i],l,{size:23.5,anchor:"end"}));
  // gene model
  const m=c.gene;
  T(svg,m.cx,m.base,m.name,{size:24,italic:true,anchor:"middle"});
  svg.append("line").attr("x1",m.x0).attr("x2",m.x1).attr("y1",m.y).attr("y2",m.y).attr("stroke","#888").attr("stroke-width",1);
  svg.append("line").attr("x1",m.x0).attr("x2",m.x1).attr("y1",m.y).attr("y2",m.y).attr("stroke","#555").attr("stroke-width",4).attr("stroke-dasharray","1 3").attr("opacity",.35);
  m.ex.forEach(e=>svg.append("line").attr("x1",X(e)).attr("x2",X(e)).attr("y1",m.y-5).attr("y2",m.y+5).attr("stroke","#111").attr("stroke-width",1.2));
  svg.append("line").attr("x1",m.x0).attr("x2",m.x0).attr("y1",m.y-5).attr("y2",m.y+5).attr("stroke","#111").attr("stroke-width",1);
  svg.append("rect").attr("x",X(m.blk[0])).attr("y",m.y-m.blk[2]).attr("width",X(m.blk[1])-X(m.blk[0])).attr("height",2*m.blk[2]).attr("fill","#000");
}
const rowsU={t1:874.5,t2:921.5,dT:926.5,dB:934.6,pB:950,eT:966,eB:974.2,t3:1039.4,t4:1086.4,d2T:1092,d2B:1099.6,p2B:1115.8,e2T:1131.4,e2B:1139.5,r1:1205,r2:1251};
const rowsUR={t1:875.5,t2:922,dT:927.5,dB:936,pB:951,eT:967,eB:975,t3:1040.8,t4:1087.8,d2T:1093.5,d2B:1101.3,p2B:1117,e2T:1133,e2B:1141,r1:1206.4,r2:1251};
const rowsL={t1:1357.3,t2:1404.3,dT:1410,dB:1418,pB:1433.7,eT:1449.3,eB:1457.3,t3:1523.3,t4:1570,d2T:1576,d2B:1583.7,p2B:1599.3,e2T:1615.3,e2B:1622.7,r1:1688.7,r2:1733.5};
const rowsLR={t1:1356.3,t2:1403.7,dT:1409.3,dB:1417,pB:1432.7,eT:1449,eB:1456.7,t3:1522.3,t4:1569.7,d2T:1575,d2B:1582.7,p2B:1598.7,e2T:1614.7,e2B:1622.3,r1:1688,r2:1733};
const yU=[851,899.5,1016.8,1066.8,1183,1229],yL=[1333.3,1381,1499.3,1548.3,1665.7,1711.7];
browser({x:posX,box:[85.7,782,824,1253.4],rows:rowsU,t1:fxT1,t3:fxT3,red2:fxRed2,red4:fxRed4,noise1:fxNoise1,noise3:fxNoise3,diff1:fxDiff1,p1:fxP1,enh:fxEnh,diff2:fxDiff2,p2:fxP2,rna1:fxRna1,rna2:fxRna2,labels:["200","200","200","200","2000","2000"],labRight:774,labY:yU,gene:{name:"Foxp3",cx:326.5,base:806.5,y:817.3,x0:256,x1:377.6,ex:[617,622,630,636,642,660,702,708,715,722],blk:[727,740,3.5]}});
browser({x:posXR,box:[785,1475.7,824,1253.4],rows:rowsUR,t1:raT1,t3:raT3,red2:raRed2,red4:raRed4,noise1:raNoise1,noise3:raNoise3,diff1:raDiff1,p1:raP1,enh:raEnh,diff2:raDiff2,p2:raP2,rna1:raRna1,rna2:raRna2,labels:["200","200","200","200","4000","4000"],labRight:1468.6,labY:yU,gene:{name:"Il10ra",cx:1112,base:806.5,y:817.3,x0:1028.7,x1:1169.5,ex:[479,536,552,564,573,603],blk:[385,423,4]}});
browser({x:posX,box:[87.8,783,1308.3,1735.7],rows:rowsL,t1:rbT1,t3:rbT3,red2:rbRed2,red4:rbRed4,noise1:rbNoise1,noise3:rbNoise3,diff1:rbDiff1,p1:rbP1,enh:rbEnh,diff2:rbDiff2,p2:rbP2,rna1:rbRna1,rna2:rbRna2,labels:["200","200","200","200","2000","2000"],labRight:775.5,labY:yL,gene:{name:"Il10rb",cx:434,base:1293.3,y:1301.7,x0:365.8,x1:478,ex:[733,781,812,865,892,928],blk:[928,937,3]}});
browser({x:posXR,box:[785,1477,1307.3,1735.7],rows:rowsLR,t1:i2T1,t3:i2T3,red2:i2Red2,red4:i2Red4,noise1:i2Noise1,noise3:i2Noise3,diff1:i2Diff1,p1:i2P1,enh:i2Enh,diff2:i2Diff2,p2:i2P2,rna1:i2Rna1,rna2:i2Rna2,labels:["200","200","200","200","1000","1000"],labRight:1469,labY:yL,gene:{name:"Il2ra",cx:1251.6,base:1293,y:1301.3,x0:1088.8,x1:1400.8,ex:[780,803,837,852,863,875],blk:[928,961,2.6]}});

// side labels, scale bars
function sideBar(y0,y1){svg.append("line").attr("x1",73.5).attr("x2",73.5).attr("y1",y0).attr("y2",y1).attr("stroke","#000").attr("stroke-width",2.6);}
[[914.6,913,843.4,981.3,"Setdb1"],[1069,1069,999,1137.8,"H3K9me3"],[1399,1397,1325.3,1462.7,"Setdb1"],[1552.5,1552.5,1481.3,1619,"H3K9me3"]].forEach(d=>{
  T(svg,40,d[0],d[4],{size:24,rot:-90,anchor:"middle"});
  T(svg,69,d[1],"CUT&Tag",{size:24,rot:-90,anchor:"middle"});
  sideBar(d[2],d[3]);
});
[[1209.5,1169,1252.8],[1692.5,1651.7,1734]].forEach(d=>{T(svg,65,d[0],"RNA-seq",{size:24,rot:-90,anchor:"middle"});sideBar(d[1],d[2]);});
[[711.7,778,1262,750,1291.7],[1380.8,1471,1262,1444,1291.7],[720,778,1747,744,1775],[1406.6,1468,1744,1437,1775]].forEach(d=>{
  svg.append("line").attr("x1",d[0]).attr("x2",d[1]).attr("y1",d[2]).attr("y2",d[2]).attr("stroke","#000").attr("stroke-width",3);
  T(svg,d[3],d[4],"10kb",{size:24});
});
const sideCols=[["WT HT",BLUE],[KOHT,"#f03030"],["Diff. peak with p value","#0808c8"],["Treg-related enhancer","#000"]];
function sideText(ys,x0){
  const seq=[0,1,2,3,0,1,2,3,0,1];
  seq.forEach((k,i)=>T(svg,x0+(i>=8?-1:0),ys[i],sideCols[k][0],{size:24.2,fill:sideCols[k][1],mid:true}));
}
sideText([857,900.8,944,987,1025,1068.8,1112,1155.4,1195,1238.6],1488.6);
sideText([1339.3,1382.3,1426,1469,1507.3,1550.3,1593.7,1636.7,1677.3,1720.7],1488.6);

// --- panel f
(function(){
  const x=d3.scaleLinear([0,10],[355,559]);
  const y=d3.scaleBand(geneSets,[1898.4,2454.7]);
  const pc=d3.scaleLinear([0,9.7e-7],["#f8766d","#1f4e96"]);
  const g=svg.append("g");
  geneSets.forEach((k,i)=>g.append("rect").attr("x",x(0)).attr("y",y(k)+y.bandwidth()/2-15.7).attr("width",x(geneCounts[i])-x(0)).attr("height",31.4).attr("fill",pc(genePvals[i])));
  const top=g.append("g").attr("transform","translate(0,1892)").call(d3.axisTop(x).tickValues(countTicks).tickSize(5).tickSizeOuter(0).tickFormat(d=>d===0?"0":d3.format(".1f")(d)));
  top.selectAll("path,line").attr("stroke","#222").attr("stroke-width",2);
  top.selectAll("text").attr("font-size",23.5).attr("font-family",'"Liberation Sans"').attr("fill","#111");
  const left=g.append("g").attr("transform","translate(355,0)").call(d3.axisLeft(y).tickSize(5).tickSizeOuter(0).tickFormat(""));
  left.selectAll("line").attr("stroke","#222").attr("stroke-width",2);
  left.select("path").attr("d","M0,1892V2461").attr("stroke","#222").attr("stroke-width",2.4);
  T(svg,332.6,1875,"Gene Count",{size:23.5,anchor:"end",mid:true,fill:"#111"});
  fLabelText.forEach((t,i)=>T(svg,fLabelRight[i],fLabelY[i],t,{size:24,anchor:"end",mid:true,fill:"#111"}));
  fDashY.forEach(yy=>svg.append("line").attr("x1",90).attr("x2",349).attr("y1",yy).attr("y2",yy).attr("stroke","#000").attr("stroke-width",2.4).attr("stroke-dasharray","12 6.5"));
  const id="pgrad",lg=svg.append("defs").append("linearGradient").attr("id",id).attr("x1",0).attr("x2",0).attr("y1",1).attr("y2",0);
  lg.append("stop").attr("offset",0).attr("stop-color","#f8766d");
  lg.append("stop").attr("offset",1).attr("stop-color","#1f4e96");
  svg.append("rect").attr("x",513.5).attr("y",2312.8).attr("width",29).attr("height",146.4).attr("fill",`url(#${id})`);
  const ly=d3.scaleLinear([0,9.7e-7],[2459.2,2312.8]);
  pvalTicks.forEach(v=>{
    [[513.5,519],[537,542.5]].forEach(s=>svg.append("line").attr("x1",s[0]).attr("x2",s[1]).attr("y1",ly(v)).attr("y2",ly(v)).attr("stroke","#fff").attr("stroke-width",1));
    T(svg,552,ly(v),v.toExponential(1).replace("e-7","e−07"),{size:23.5,mid:true,fill:"#111"});
  });
  T(svg,501,2289,"pvalue",{size:23.5,fill:"#111"});
})();

// --- panel g
const heatC=d3.scaleLinear([0,.5,1],["#4263a5","#f5f5f5","#8e2f2a"]);
function heat(c){
  const x=d3.scaleLinear([0,627],[c.x0,c.x1]),y=d3.scaleLinear([0,1142],[1871.9,2383.1]);
  const g=svg.append("g");
  g.append("rect").attr("x",c.x0).attr("y",1871.9).attr("width",c.x1-c.x0).attr("height",511.2).attr("fill",heatC(0));
  const ln=d3.line().x(d=>x(d[0])).y(d=>y(d[1])).curve(d3.curveLinearClosed);
  const id=c.id;
  const cp=svg.append("clipPath").attr("id",id);
  [c.lobeL,c.lobeR].forEach(p=>cp.append("path").attr("d",ln(p)));
  const lc="#7e3a46";
  // blue wedge streaks, spans shrink as rows get lower
  wedgeRows.forEach((r,i)=>{
    const s=wedgeSpan[i];
    g.append("rect").attr("x",x(s[0])).attr("y",y(r*c.rs)).attr("width",x(s[1])-x(s[0])).attr("height",.8).attr("fill",heatC(wedgeVals[i])).attr("opacity",.4);
    g.append("rect").attr("x",x(s[0]+8)).attr("y",y((r+6)*c.rs)).attr("width",x(s[1]-8)-x(s[0]+8)).attr("height",.7).attr("fill",heatC(wedgeVals[(i+5)%33]*.8)).attr("opacity",.32);
  });
  [c.lobeL,c.lobeR].forEach(p=>g.append("path").attr("d",ln(p)).attr("fill",lc));
  const cl=g.append("g").attr("clip-path",`url(#${id})`);
  lobeRows.forEach((r,i)=>{
    cl.append("rect").attr("x",c.x0).attr("y",y(r*c.rs)).attr("width",c.x1-c.x0).attr("height",.85).attr("fill",heatC(lobeVals[i]*.75)).attr("opacity",.5);
    cl.append("rect").attr("x",c.x0).attr("y",y((r+3.5)*c.rs)).attr("width",c.x1-c.x0).attr("height",1.1).attr("fill","#8e2f2a").attr("opacity",.65);
    // fringe past TSS
    g.append("rect").attr("x",x(c.fringe[0]-(i%5)*3)).attr("y",y(r*c.rs)).attr("width",x(8+(i%5)*3)-x(0)).attr("height",.9).attr("fill",heatC(.8)).attr("opacity",.45);
    g.append("rect").attr("x",x(c.fringe[1])).attr("y",y(r*c.rs)).attr("width",x(8+(i%4)*4)-x(0)).attr("height",.9).attr("fill",heatC(.8)).attr("opacity",.45);
  });
  g.append("path").attr("d",ln(c.top)).attr("fill","#8e2f2a");
  const tclip=c.id+"t";
  svg.append("clipPath").attr("id",tclip).append("path").attr("d",ln(c.top));
  topStreaks.forEach((r,i)=>{const strong=i===3&&c.rs===1;
    g.append("rect").attr("clip-path",`url(#${tclip})`).attr("x",c.x0).attr("y",y(r*c.rs)).attr("width",c.x1-c.x0).attr("height",strong?1.6:.8).attr("fill",strong?"#b85f42":"#a54a36").attr("opacity",strong?.9:.5);});
  // flanks: speckled read-density bands
  flankRows.forEach((r,i)=>{
    const rr=r+c.flankShift;
    [[c.fl,1],[c.fr,-1]].forEach(f=>{
      const n=flankRows.length;
      [[0,0,1,2.3,.7],[7,3.5,.7,1.6,.62],[13,7,.9,1.8,.66],[21,-3.5,.5,1.2,.5]].forEach(l=>{
        const k=(i+l[0])%n;
        const cx=f[0]+f[1]*flankOff[k]*.8;
        const w=flankWidth[Math.max(k,i)]*l[2];
        g.append("rect").attr("x",x(cx-w/2)).attr("y",y(rr+l[1])).attr("width",x(w)-x(0)).attr("height",l[3]).attr("fill",heatC(flankVal[i])).attr("opacity",l[4]*(1-i/90));
      });
    });
  });
  if(c.vline) g.append("line").attr("x1",x(c.vline)).attr("x2",x(c.vline)).attr("y1",y(110)).attr("y2",y(650)).attr("stroke","#4a2a3a").attr("stroke-width",.8).attr("opacity",.7);
  c.ticks.forEach((t,i)=>{
    svg.append("line").attr("x1",t).attr("x2",t).attr("y1",2383.1).attr("y2",2392).attr("stroke","#000").attr("stroke-width",2.6);
    T(svg,t,2395.5,heatTickLabels[i],{size:21.5,rot:-90,anchor:"end",mid:true});
  });
}
heat({id:"hw",x0:706.5,x1:962.4,top:wtTop,lobeL:wtLobeL,lobeR:wtLobeR,rs:1,fringe:[66,548],fl:66,fr:552,flankShift:0,vline:534,
  ticks:[706.5,741.2,786.9,833.5,877.6,922.9,959.6]});
heat({id:"hk",x0:982.9,x1:1238.4,top:koTop,lobeL:koLobeL,lobeR:koLobeR,rs:.83,fringe:[70,534],fl:68,fr:548,flankShift:-50,
  ticks:[982.9,1017.1,1062.4,1109,1153,1199.2,1235.1]});
T(svg,825.7,1844.6,"WT HT",{size:23.5,fill:BLUE,anchor:"middle",mid:true});
T(svg,1099,1844.6,KOHT,{size:24.5,fill:"#f03030",anchor:"middle",mid:true});
T(svg,685,2125.7,"Reads density",{size:24,rot:-90,anchor:"middle"});
T(svg,969.6,2478,"Distance to peak center",{size:24,anchor:"middle",mid:true});
T(svg,1241.6,2048.7,"values",{size:23.5,mid:true});
(function(){
  const lg=svg.append("defs").append("linearGradient").attr("id","vg").attr("x1",0).attr("x2",0).attr("y1",0).attr("y2",1);
  [[0,"#7f2c2c"],[.12,"#a34a38"],[.25,"#d8a080"],[.4,"#f3e4d8"],[.5,"#f5f5f5"],[.62,"#d0dcec"],[.75,"#8fabd0"],[1,"#4263a5"]].forEach(s=>lg.append("stop").attr("offset",s[0]).attr("stop-color",s[1]));
  svg.append("rect").attr("x",1259).attr("y",2072.9).attr("width",31).attr("height",156.7).attr("fill","url(#vg)");
  [.75,.25].forEach(v=>{const yy=2229.6-156.7*v;[[1259,1265],[1284,1290]].forEach(s=>svg.append("line").attr("x1",s[0]).attr("x2",s[1]).attr("y1",yy).attr("y2",yy).attr("stroke","#fff").attr("stroke-width",1));});
  [["1.0",2076.5],["0.5",2151.7],["0.0",2223.3]].forEach(d=>T(svg,1296.7,d[1],d[0],{size:23.5,mid:true}));
})();

// --- panel h
(function(){
  const x=d3.scaleLinear([0,4],[1440,1779]);
  const y=d3.scaleBand(hGenes,[1894.9,2403.7]);
  const g=svg.append("g");
  hGenes.forEach((k,i)=>{
    const c=y(k)+y.bandwidth()/2;
    g.append("rect").attr("x",x(0)).attr("y",c-33).attr("width",x(hKOMean[i])-x(0)).attr("height",32.5).attr("fill","none").attr("stroke",BRED).attr("stroke-width",2.7);
    g.append("rect").attr("x",x(0)).attr("y",c+1.5).attr("width",x(hWTMean[i])-x(0)).attr("height",32.5).attr("fill","none").attr("stroke",BLUE).attr("stroke-width",2.7);
    if(hKOErr[i]>0){const e=c-17;
      g.append("path").attr("d",`M${x(hKOMean[i]-hKOErr[i])},${e}H${x(hKOMean[i]+hKOErr[i])}M${x(hKOMean[i]+hKOErr[i])},${e-8}v16M${x(hKOMean[i]-hKOErr[i])},${e-8}v16`).attr("stroke",BRED).attr("stroke-width",2.5).attr("fill","none");}
    if(hWTErr[i]>0){const e=c+17;
      g.append("path").attr("d",`M${x(hWTMean[i]-hWTErr[i])},${e}H${x(hWTMean[i]+hWTErr[i])}M${x(hWTMean[i]+hWTErr[i])},${e-8}v16`).attr("stroke",BLUE).attr("stroke-width",2.5).attr("fill","none");}
    hKO[i].forEach(p=>g.append("path").attr("d",d3.symbol(sq,289)()).attr("transform",`translate(${x(p[0])},${c-17+p[1]})`).attr("fill",BRED));
    hWT[i].forEach(p=>g.append("path").attr("d",d3.symbol(circ,227)()).attr("transform",`translate(${x(p[0])},${c+17+p[1]})`).attr("fill",BLUE));
    T(svg,1431.7,c+2.7,k,{size:23.5,italic:true,anchor:"end",mid:true});
  });
  const bx=g.append("g").attr("transform","translate(0,2403.2)").call(d3.axisBottom(x).ticks(4).tickSize(9).tickSizeOuter(0).tickFormat(d3.format("d")));
  bx.selectAll("path,line").attr("stroke","#000").attr("stroke-width",3);
  bx.selectAll("text").attr("font-size",23.5).attr("font-family",'"Liberation Sans"').attr("fill","#000").attr("dy","0.95em");
  g.append("line").attr("x1",1440).attr("x2",1440).attr("y1",1893).attr("y2",2404.7).attr("stroke","#000").attr("stroke-width",3);
  T(svg,1620,2463.7,[{t:"Fold (relative to "},{t:"Actb",it:true},{t:")"}],{size:24,anchor:"middle",mid:true});
  [[1775,1930,1759,1918.5,1953.4],[1706.7,2011,1691,2004.9,2040.7],[1745,2103.3,1730.7,2086.8,2122.6],[1608,2184.8,1591,2175.9,2211.7],[1633,2269.9,1615.7,2256.4,2292.2],[1676.7,2341,1661.7,2342.8,2378.6]].forEach((d,i)=>{
    T(svg,d[0],d[1],hP[i],{size:23,rot:90,anchor:"middle",mid:true});
    svg.append("line").attr("x1",d[2]).attr("x2",d[2]).attr("y1",d[3]).attr("y2",d[4]).attr("stroke","#000").attr("stroke-width",3);
  });
  svg.append("path").attr("d",d3.symbol(circ,250)()).attr("transform","translate(1451,1818.2)").attr("fill",BLUE);
  svg.append("path").attr("d",d3.symbol(sq,289)()).attr("transform","translate(1451,1859.4)").attr("fill",BRED);
  T(svg,1470,1818,"WT",{size:24.5,fill:BLUE,mid:true});
  T(svg,1471.7,1859.4,KO,{size:24.5,fill:"#f03030",italic:true,mid:true});
})();
</script></body></html>
